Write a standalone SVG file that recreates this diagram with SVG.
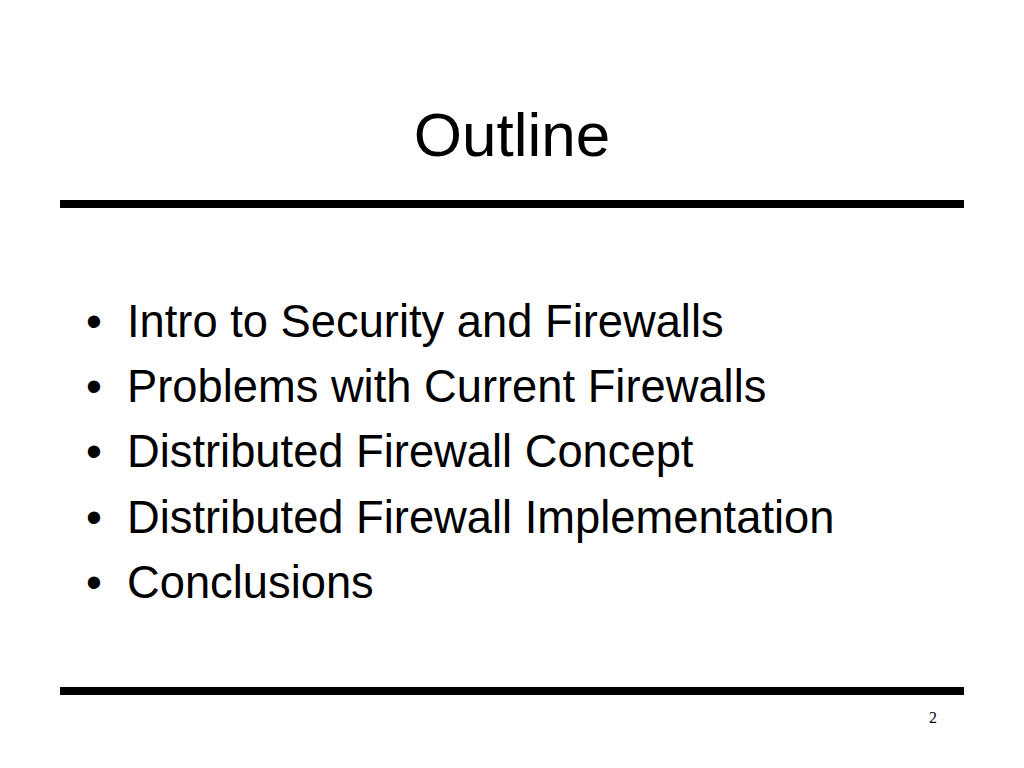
<svg xmlns="http://www.w3.org/2000/svg" width="1024" height="768" viewBox="0 0 1024 768">
<style>
.t{font-family:"Liberation Sans",Arial,sans-serif;fill:#000}
.b{font-size:45.3px}
</style>
<rect width="1024" height="768" fill="#fff"/>
<text class="t" x="512" y="156" font-size="62" text-anchor="middle">Outline</text>
<rect x="60" y="200" width="904" height="8" fill="#000"/>
<g class="t b">
<text x="86" y="337">•</text><text x="127" y="337">Intro to Security and Firewalls</text>
<text x="86" y="402">•</text><text x="127" y="402">Problems with Current Firewalls</text>
<text x="86" y="467">•</text><text x="127" y="467">Distributed Firewall Concept</text>
<text x="86" y="533">•</text><text x="127" y="533">Distributed Firewall Implementation</text>
<text x="86" y="598">•</text><text x="127" y="598">Conclusions</text>
</g>
<rect x="60" y="687" width="904" height="8" fill="#000"/>
<text x="937" y="723" font-family="Liberation Serif,serif" font-size="16" text-anchor="end">2</text>
</svg>
